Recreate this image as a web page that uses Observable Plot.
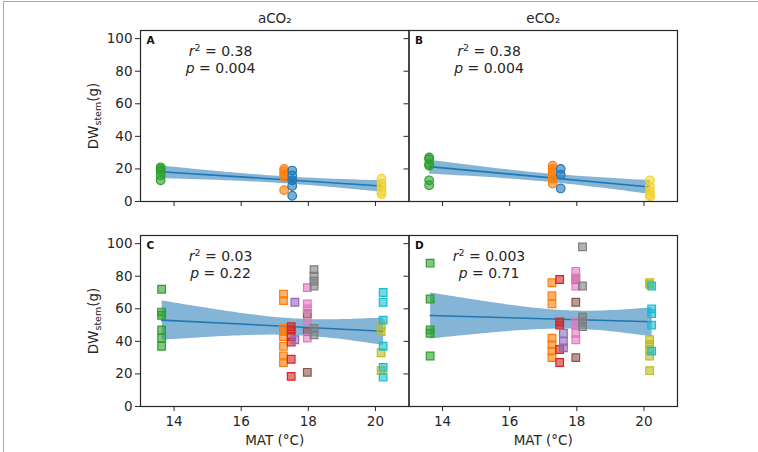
<!DOCTYPE html>
<html>
<head>
<meta charset="utf-8">
<script src="https://cdn.jsdelivr.net/npm/d3@7"></script>
<script src="https://cdn.jsdelivr.net/npm/@observablehq/plot@0.6"></script>
<style>
  html, body { margin: 0; padding: 0; background: #fff; }
  #wrap { position: relative; width: 758px; height: 452px; overflow: hidden; }
  #border { position: absolute; left: 3px; top: 1px; width: 760px; height: 460px;
            border-left: 1px solid #a8a8a8; border-top: 1px solid #a8a8a8; pointer-events: none; }
</style>
</head>
<body>
<div id="wrap"><div id="border"></div></div>
<script>
// ---------- data ----------
const treatments = ["aCO₂", "eCO₂"];
const rowKeys = ["circles", "squares"];
const panelLetters = ["A", "B", "C", "D"];
const r2Labels = ["r^2 = 0.38", "r^2 = 0.38", "r^2 = 0.03", "r^2 = 0.003"];
const pLabels = ["p = 0.004", "p = 0.004", "p = 0.22", "p = 0.71"];
const xTicks = [14, 16, 18, 20];
const yTicks = [0, 20, 40, 60, 80, 100];

// top row (circles): 4 sites
const topSites = ["T1", "T2", "T3", "T4"];
const topMAT = [13.6, 17.28, 17.52, 20.18];
const dwA = [[21, 20, 18.5, 16, 13], [20, 18.5, 16.5, 15, 7], [19, 16, 13, 9.5, 3.5], [14, 11, 9, 6, 4.5]];
const dwB = [[27, 26, 23, 22, 13, 10], [22, 20, 18, 16, 14, 11], [20, 16.5, 8], [13, 9, 6, 4, 3]];

// bottom row (squares): 9 sites
const bottomSites = ["B1", "B2", "B3", "B4", "B5", "B6", "B7", "B8", "B9"];
const bottomMAT = [13.63, 17.26, 17.49, 17.6, 17.97, 17.97, 18.17, 20.17, 20.23];
const dwC = [[72, 58, 56, 47, 42, 37], [69, 65, 48, 46, 43, 37, 31, 27], [49, 47, 43, 39.5, 29, 18.5],
             [64, 41], [57, 46, 21], [73, 63, 60, 52, 42], [84, 80, 77, 74, 48, 44],
             [50, 46, 33, 22], [70, 64, 53, 37, 24, 18]];
const dwD = [[88, 66, 47, 45, 31], [76, 68, 63, 42, 38, 34, 30], [78, 52, 50, 35, 27],
             [45, 40, 36], [78, 64, 30], [83, 79, 74, 52, 50, 45, 41], [98, 74, 55, 52, 49],
             [76, 75, 41, 38, 35, 31, 22], [74, 60, 57, 50, 34]];

// ---------- styles ----------
const topColors = ["#2ca02c", "#ff7f0e", "#1f77b4", "#f2d22e"];
const bottomColors = ["#2ca02c", "#ff7f0e", "#d62728", "#9467bd", "#8c564b", "#e377c2", "#7f7f7f", "#bcbd22", "#17becf"];
const ink = "#262626";
const fitColor = "#1f77b4";

// ---------- build tables ----------
const points = [];
function addPanel(fx, fy, sites, mats, values) {
  values.forEach((vals, i) => vals.forEach(v => points.push({fx, fy, site: sites[i], mat: mats[i], dw: v})));
}
addPanel(treatments[0], rowKeys[0], topSites, topMAT, dwA);
addPanel(treatments[1], rowKeys[0], topSites, topMAT, dwB);
addPanel(treatments[0], rowKeys[1], bottomSites, bottomMAT, dwC);
addPanel(treatments[1], rowKeys[1], bottomSites, bottomMAT, dwD);

const panels = [];
rowKeys.forEach((fy, ri) => treatments.forEach((fx, ci) => {
  const k = ri * 2 + ci;
  panels.push({fx, fy, letter: panelLetters[k], r2: r2Labels[k], p: pLabels[k]});
}));
const colTitles = treatments.map(fx => ({fx, fy: rowKeys[0], label: fx}));
const yLabels = rowKeys.map(fy => ({fx: treatments[0], fy, label: "DW_stem(g)"}));
const xLabels = treatments.map(fx => ({fx, fy: rowKeys[1], label: "MAT (°C)"}));

const topPts = points.filter(d => d.fy === rowKeys[0]);
const botPts = points.filter(d => d.fy === rowKeys[1]);

const chart = Plot.plot({
  width: 758,
  height: 452,
  marginLeft: 140,
  marginRight: 81,
  marginTop: 30,
  marginBottom: 46,
  style: {fontFamily: "DejaVu Sans", fontSize: "13.5px", color: ink, background: "transparent"},
  x: {domain: [13, 21]},
  y: {domain: [0, 105]},
  fx: {domain: treatments, padding: 0, round: false, axis: null},
  fy: {domain: rowKeys, paddingInner: 0.1659, paddingOuter: 0, round: false, axis: null},
  color: {domain: [...topSites, ...bottomSites], range: [...topColors, ...bottomColors]},
  marks: [
    Plot.linearRegressionY(points, {x: "mat", y: "dw", fx: "fx", fy: "fy",
      stroke: fitColor, fill: fitColor, fillOpacity: 0.55, strokeWidth: 1.6, ci: 0.95}),
    Plot.dot(topPts, {x: "mat", y: "dw", fx: "fx", fy: "fy", fill: "site", stroke: "site",
      fillOpacity: 0.6, strokeWidth: 1.2, r: 4.3, symbol: "circle"}),
    Plot.dot(botPts, {x: "mat", y: "dw", fx: "fx", fy: "fy", fill: "site", stroke: "site",
      fillOpacity: 0.6, strokeWidth: 1.2, r: 4.3, symbol: "square"}),
    // tick marks on every panel
    Plot.axisX({anchor: "bottom", ticks: xTicks, facetAnchor: null, tickSize: 5, tickFormat: () => "", label: null, stroke: ink}),
    Plot.axisY({anchor: "left", ticks: yTicks, facetAnchor: null, tickSize: 5, tickFormat: () => "", label: null, stroke: ink}),
    // tick labels on outer panels
    Plot.axisX({anchor: "bottom", ticks: xTicks, tickSize: 0, tickPadding: 10, label: null, fill: ink}),
    Plot.axisY({anchor: "left", ticks: yTicks, tickSize: 0, tickPadding: 8, label: null, fill: ink}),
    Plot.frame({stroke: ink, strokeWidth: 1.2}),
    Plot.text(panels, {fx: "fx", fy: "fy", text: "letter", frameAnchor: "top-left", dx: 6, dy: 10,
      textAnchor: "start", lineAnchor: "middle", fontWeight: "bold", fontSize: 10.5, fill: "#111"}),
    Plot.text(panels, {fx: "fx", fy: "fy", text: "r2", frameAnchor: "top-left", dx: 80, dy: 21,
      textAnchor: "middle", lineAnchor: "middle", fontSize: 14, fill: ink}),
    Plot.text(panels, {fx: "fx", fy: "fy", text: "p", frameAnchor: "top-left", dx: 80, dy: 38,
      textAnchor: "middle", lineAnchor: "middle", fontSize: 14, fill: ink}),
    Plot.text(colTitles, {fx: "fx", fy: "fy", text: "label", frameAnchor: "top", dy: -12,
      textAnchor: "middle", lineAnchor: "middle", fontSize: 13.5, fill: ink}),
    Plot.text(yLabels, {fx: "fx", fy: "fy", text: "label", frameAnchor: "left", dx: -47, rotate: -90,
      textAnchor: "middle", lineAnchor: "middle", fontSize: 13.5, fill: ink}),
    Plot.text(xLabels, {fx: "fx", fy: "fy", text: "label", frameAnchor: "bottom", dy: 34,
      textAnchor: "middle", lineAnchor: "middle", fontSize: 13.5, fill: ink})
  ]
});

// rich text: subscripts, superscripts and italics
const NS = "http://www.w3.org/2000/svg";
function tspan(parent, str, attrs = {}) {
  const t = document.createElementNS(NS, "tspan");
  for (const [k, v] of Object.entries(attrs)) t.setAttribute(k, v);
  t.textContent = str;
  parent.appendChild(t);
}
chart.querySelectorAll("text").forEach(el => {
  const s = el.textContent;
  if (s === "DW_stem(g)") {
    el.textContent = "";
    tspan(el, "DW");
    tspan(el, "stem", {"font-size": "9.5px", dy: "3.5"});
    tspan(el, "(g)", {dy: "-3.5"});
  } else if (s.startsWith("r^2")) {
    el.textContent = "";
    tspan(el, "r", {"font-style": "italic"});
    tspan(el, "2", {"font-size": "9.5px", dy: "-5"});
    tspan(el, " = " + s.split("= ")[1], {dy: "5"});
  } else if (/^p = /.test(s)) {
    el.textContent = "";
    tspan(el, "p", {"font-style": "italic"});
    tspan(el, " = " + s.split("= ")[1]);
  }
});

document.getElementById("wrap").appendChild(chart);
</script>
</body>
</html>
